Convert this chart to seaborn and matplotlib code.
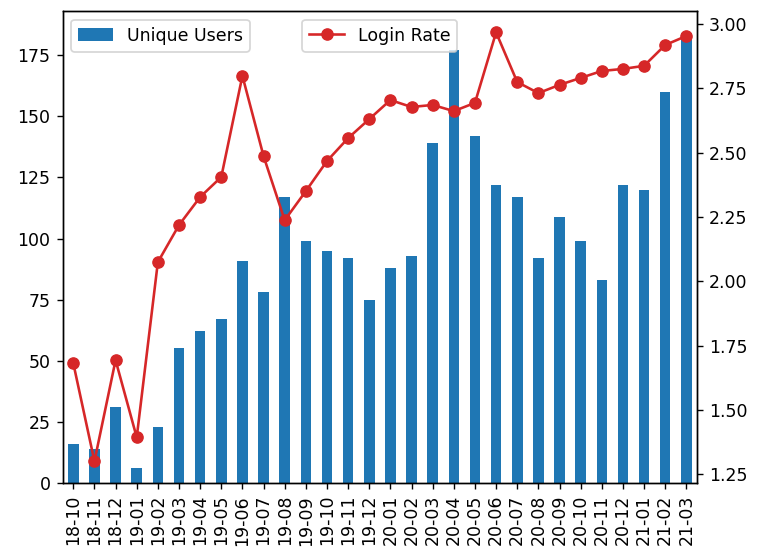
import numpy as np
import pandas as pd
import seaborn as sns
import matplotlib
matplotlib.use("Agg")
import matplotlib.pyplot as plt

# Monthly data
months = ['18-10', '18-11', '18-12', '19-01', '19-02', '19-03', '19-04', '19-05', '19-06', '19-07',
          '19-08', '19-09', '19-10', '19-11', '19-12', '20-01', '20-02', '20-03', '20-04', '20-05',
          '20-06', '20-07', '20-08', '20-09', '20-10', '20-11', '20-12', '21-01', '21-02', '21-03']
unique_users = [16, 14, 31, 6, 23, 55, 62, 67, 91, 78,
                117, 99, 95, 92, 75, 88, 93, 139, 177, 142,
                122, 117, 92, 109, 99, 83, 122, 120, 160, 184]
login_rate = [1.681, 1.300, 1.693, 1.393, 2.074, 2.218, 2.327, 2.405, 2.798, 2.486,
              2.237, 2.350, 2.467, 2.556, 2.630, 2.704, 2.677, 2.685, 2.661, 2.693,
              2.967, 2.774, 2.731, 2.763, 2.790, 2.817, 2.825, 2.837, 2.918, 2.953]

df = pd.DataFrame({'month': months, 'users': unique_users, 'rate': login_rate})
df['pos'] = np.arange(len(df))

fig, ax = plt.subplots(figsize=(6.12, 4.376), dpi=125)
fig.subplots_adjust(left=0.082, right=0.911, top=0.980, bottom=0.1175)

# bars for unique users
sns.barplot(data=df, x='month', y='users', color='#1f77b4', saturation=1,
            width=0.5, label='Unique Users', ax=ax)
ax.set_xlabel('')
ax.set_ylabel('')
ax.set_xlim(-0.5, len(df) - 0.5)
ax.set_ylim(0, max(unique_users) * 1.05)
ax.tick_params(axis='x', rotation=90)
ax.legend(loc='upper left')

# login rate on twin axis
ax2 = ax.twinx()
sns.lineplot(data=df, x='pos', y='rate', color='#d62728', marker='o',
             markersize=6.5, markeredgecolor='#d62728', linewidth=1.5,
             label='Login Rate', ax=ax2)
ax2.set_ylabel('')
ax2.set_xlabel('')
ax2.set_xlim(-0.5, len(df) - 0.5)
lo, hi = min(login_rate), max(login_rate)
pad = (hi - lo) * 0.05
ax2.set_ylim(lo - pad, hi + pad)
ax2.legend(loc='upper center')

plt.savefig('out.png', dpi=125)
